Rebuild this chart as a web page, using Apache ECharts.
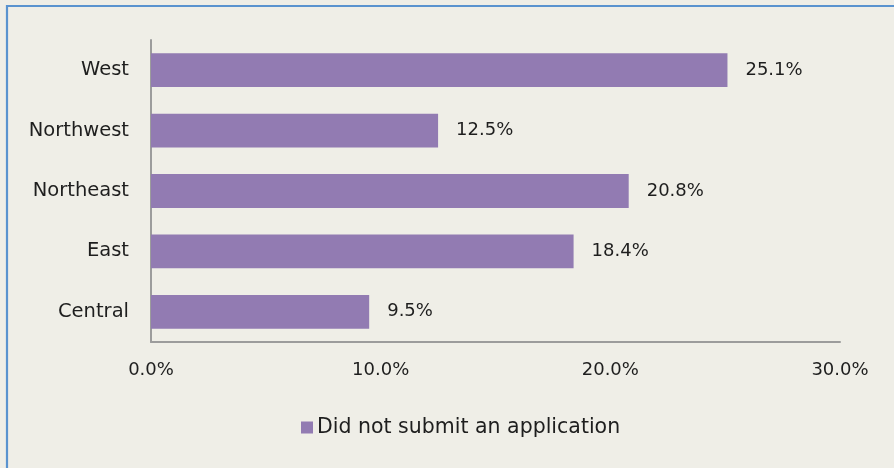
<!DOCTYPE html>
<html>
<head>
<meta charset="utf-8">
<script src="https://cdn.jsdelivr.net/npm/echarts@6/dist/echarts.min.js"></script>
<style>
  html, body { margin: 0; padding: 0; background: #efeee7; }
  #chart { width: 894px; height: 468px; }
</style>
</head>
<body>
<div id="chart"></div>
<script>
// Regions, listed top to bottom as they appear on the axis
const regions = ['West', 'Northwest', 'Northeast', 'East', 'Central'];
// Share of each region that did not submit an application (%)
const notSubmitted = [25.1, 12.5, 20.8, 18.4, 9.5];
const seriesName = 'Did not submit an application';
const xTicks = [0, 10, 20, 30];

const FONT = '"DejaVu Sans", sans-serif';
const TEXT = '#1e1e1e';

const chart = echarts.init(document.getElementById('chart'), null, { renderer: 'canvas' });

chart.setOption({
  backgroundColor: '#efeee7',
  animation: false,
  textStyle: { fontFamily: FONT },
  graphic: [{
    type: 'rect',
    shape: { x: 7, y: 6, width: 1200, height: 1200 },
    style: { fill: 'none', stroke: '#5a93cf', lineWidth: 2.2 },
    silent: true
  }],
  grid: { left: 151, right: 54, top: 40, bottom: 126, containLabel: false },
  legend: {
    data: [seriesName],
    left: 296,
    top: 412,
    icon: 'rect',
    itemWidth: 12,
    itemHeight: 12,
    itemGap: 6,
    textStyle: { fontFamily: FONT, fontSize: 20.5, color: TEXT, padding: [0, 0, 0, -1] }
  },
  xAxis: {
    type: 'value',
    min: xTicks[0],
    max: xTicks[xTicks.length - 1],
    interval: 10,
    axisLine: { show: true, lineStyle: { color: '#9c9c9c', width: 2 } },
    axisTick: { show: false },
    splitLine: { show: false },
    axisLabel: {
      margin: 19,
      fontFamily: FONT, fontSize: 18, color: TEXT,
      formatter: v => v.toFixed(1) + '%'
    }
  },
  yAxis: {
    type: 'category',
    data: regions,
    inverse: true,
    axisLine: { show: true, lineStyle: { color: '#9c9c9c', width: 2 } },
    axisTick: { show: false },
    axisLabel: { margin: 22, fontFamily: FONT, fontSize: 19.5, color: TEXT }
  },
  series: [{
    name: seriesName,
    type: 'bar',
    data: notSubmitted,
    barCategoryGap: '44%',
    itemStyle: { color: '#927bb2' },
    label: {
      show: true,
      position: 'right',
      distance: 18,
      fontFamily: FONT, fontSize: 18, color: TEXT,
      formatter: p => p.value.toFixed(1) + '%'
    }
  }]
});
</script>
</body>
</html>
